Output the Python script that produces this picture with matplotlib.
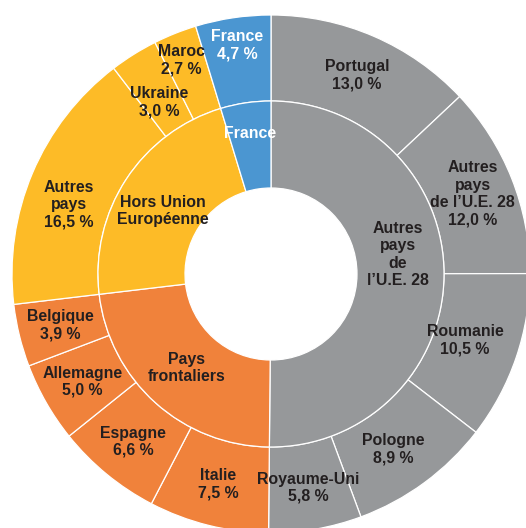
import numpy as np
import matplotlib
matplotlib.use("Agg")
import matplotlib.pyplot as plt

plt.rcParams['font.family'] = ['Liberation Sans', 'DejaVu Sans']

# ---- data ----
outer_names = ['Portugal', 'Autres\npays\nde l\u2019U.E. 28', 'Roumanie', 'Pologne',
               'Royaume-Uni', 'Italie', 'Espagne', 'Allemagne', 'Belgique',
               'Autres\npays', 'Ukraine', 'Maroc', 'France']
outer_values = [13.0, 12.0, 10.5, 8.9, 5.8, 7.5, 6.6, 5.0, 3.9, 16.5, 3.0, 2.7, 4.7]
outer_group = [0, 0, 0, 0, 0, 1, 1, 1, 1, 2, 2, 2, 3]
inner_names = ['Autres\npays\nde\nl\u2019U.E. 28', 'Pays\nfrontaliers',
               'Hors Union\nEurop\u00e9enne', 'France']

# ---- style ----
group_colors = ['#96989A', '#F0823B', '#FDBB27', '#4B96D1']
text_dark = '#231F20'
W, H = 526, 528
cx, cy = 271, H - 274
R_out, R_mid, R_in = 259, 173, 86

inner_values = [sum(v for v, g in zip(outer_values, outer_group) if g == k)
                for k in range(len(inner_names))]

fig = plt.figure(figsize=(W / 100, H / 100), dpi=100)
ax = fig.add_axes([0, 0, 1, 1])

wp_out = dict(width=R_out - R_mid, edgecolor='white', linewidth=0.9)
wp_in = dict(width=R_mid - R_in, edgecolor='white', linewidth=0.9)
ax.pie(outer_values, radius=R_out, center=(cx, cy), startangle=90, counterclock=False,
       colors=[group_colors[g] for g in outer_group], wedgeprops=wp_out)
ax.pie(inner_values, radius=R_mid, center=(cx, cy), startangle=90, counterclock=False,
       colors=group_colors, wedgeprops=wp_in)

ax.set_xlim(0, W)
ax.set_ylim(0, H)
ax.set_aspect('equal')
ax.axis('off')


def mid_angles(vals):
    tot = sum(vals)
    c = np.cumsum([0] + list(vals))
    return [360 * (c[i] + c[i + 1]) / 2 / tot for i in range(len(vals))]


def place(theta, r, s, color):
    t = np.deg2rad(theta)
    ax.text(cx + r * np.sin(t), cy + r * np.cos(t), s, ha='center', va='center',
            fontsize=11.4, fontweight='bold', color=color, linespacing=1.2)


def pct(v):
    return f"{v:.1f}".replace('.', ',') + " %"


# label layout tweaks: (angle offset, radius)
outer_tweak = {'Roumanie': (0, 205), 'Ukraine': (-1, 205), 'Maroc': (-1, 232),
               'France': (0, 231), 'Autres\npays': (-4, 214), 'Pologne': (1.5, 214)}
inner_tweak = {0: (-9, 128), 3: (0, 142), 2: (-3, 125)}

for name, val, g, th in zip(outer_names, outer_values, outer_group, mid_angles(outer_values)):
    da, r = outer_tweak.get(name, (0, 217))
    col = 'white' if g == 3 else text_dark
    place(th + da, r, f"{name}\n{pct(val)}", col)

for i, (name, th) in enumerate(zip(inner_names, mid_angles(inner_values))):
    da, r = inner_tweak.get(i, (0, 126))
    col = 'white' if i == 3 else text_dark
    place(th + da, r, name, col)

fig.savefig('out.png', dpi=100, facecolor='white')
